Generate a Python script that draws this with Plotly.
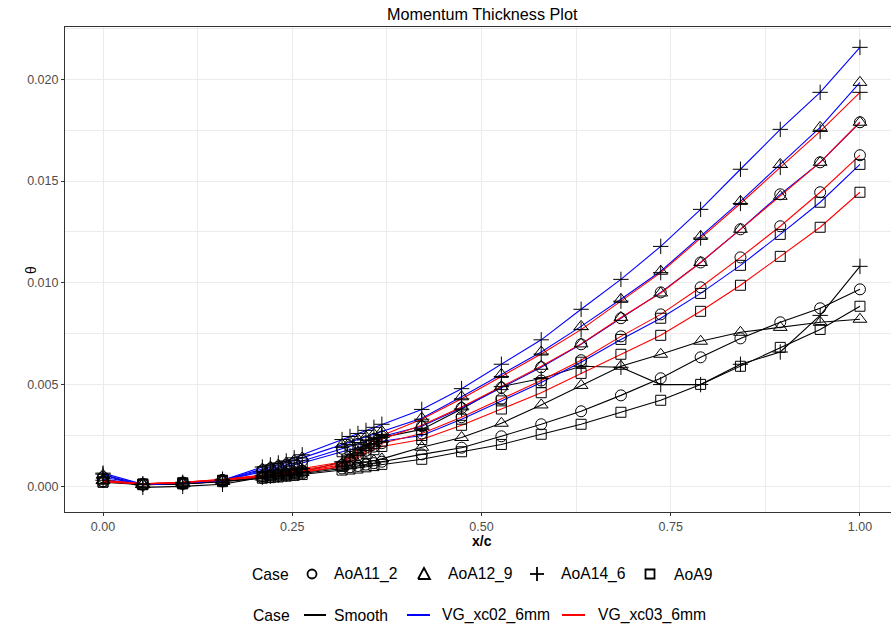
import plotly.graph_objects as go

# chordwise stations x/c
x_c = [0.0, 0.0526, 0.1053, 0.1579,
       0.2105, 0.2211, 0.2316, 0.2421, 0.2526, 0.2632,
       0.3158, 0.3263, 0.3368, 0.3474, 0.3579, 0.3684,
       0.4211, 0.4737, 0.5263, 0.5789, 0.6316, 0.6842,
       0.7368, 0.7895, 0.8421, 0.8947, 0.9474, 1.0]

# momentum thickness, Smooth
smooth_aoa9 = [0.00020, 0.00008, 0.00012, 0.00023, 0.00040, 0.00043, 0.00046, 0.00050, 0.00054, 0.00058,
               0.00080, 0.00085, 0.00090, 0.00096, 0.00102, 0.00108, 0.00133, 0.00170, 0.00206, 0.00256,
               0.00305, 0.00364, 0.00423, 0.00501, 0.00590, 0.00683, 0.00771, 0.00885]
smooth_aoa11_2 = [0.00025, 0.00008, 0.00012, 0.00024, 0.00042, 0.00046, 0.00050, 0.00054, 0.00058, 0.00063,
                  0.00088, 0.00094, 0.00100, 0.00107, 0.00114, 0.00121, 0.00157, 0.00190, 0.00246, 0.00305,
                  0.00369, 0.00447, 0.00531, 0.00634, 0.00727, 0.00806, 0.00875, 0.00968]
smooth_aoa12_9 = [0.00030, 0.00008, 0.00012, 0.00025, 0.00045, 0.00049, 0.00053, 0.00057, 0.00062, 0.00068,
                  0.00095, 0.00102, 0.00110, 0.00118, 0.00126, 0.00135, 0.00192, 0.00240, 0.00310, 0.00400,
                  0.00496, 0.00590, 0.00649, 0.00713, 0.00757, 0.00781, 0.00806, 0.00821]
smooth_aoa14_6 = [0.00060, -0.00005, 0.00000, 0.00010, 0.00045, 0.00050, 0.00055, 0.00060, 0.00066, 0.00072,
                  0.00120, 0.00140, 0.00160, 0.00190, 0.00210, 0.00240, 0.00280, 0.00380, 0.00490, 0.00530,
                  0.00590, 0.00585, 0.00500, 0.00500, 0.00600, 0.00660, 0.00840, 0.01081]

# momentum thickness, VG at x/c = 0.2
vg02_aoa9 = [0.00035, 0.00010, 0.00015, 0.00028, 0.00072, 0.00080, 0.00088, 0.00096, 0.00105, 0.00115,
             0.00170, 0.00180, 0.00190, 0.00200, 0.00211, 0.00222, 0.00250, 0.00330, 0.00420, 0.00510,
             0.00610, 0.00722, 0.00826, 0.00948, 0.01086, 0.01238, 0.01396, 0.01582]
vg02_aoa11_2 = [0.00045, 0.00010, 0.00015, 0.00030, 0.00078, 0.00087, 0.00096, 0.00105, 0.00115, 0.00125,
                0.00185, 0.00197, 0.00209, 0.00221, 0.00233, 0.00245, 0.00295, 0.00385, 0.00485, 0.00585,
                0.00698, 0.00826, 0.00953, 0.01100, 0.01263, 0.01435, 0.01592, 0.01789]
vg02_aoa12_9 = [0.00055, 0.00010, 0.00015, 0.00030, 0.00085, 0.00095, 0.00105, 0.00115, 0.00128, 0.00140,
                0.00205, 0.00218, 0.00230, 0.00243, 0.00256, 0.00270, 0.00335, 0.00440, 0.00550, 0.00660,
                0.00786, 0.00919, 0.01057, 0.01228, 0.01400, 0.01582, 0.01764, 0.01985]
vg02_aoa14_6 = [0.00065, 0.00010, 0.00015, 0.00030, 0.00095, 0.00105, 0.00115, 0.00125, 0.00140, 0.00155,
                0.00230, 0.00245, 0.00260, 0.00275, 0.00290, 0.00305, 0.00378, 0.00480, 0.00600, 0.00720,
                0.00870, 0.01017, 0.01179, 0.01361, 0.01558, 0.01754, 0.01936, 0.02157]

# momentum thickness, VG at x/c = 0.3
vg03_aoa9 = [0.00022, 0.00012, 0.00018, 0.00030, 0.00047, 0.00051, 0.00055, 0.00059, 0.00064, 0.00070,
             0.00098, 0.00120, 0.00142, 0.00162, 0.00180, 0.00196, 0.00230, 0.00300, 0.00380, 0.00460,
             0.00555, 0.00649, 0.00742, 0.00860, 0.00988, 0.01130, 0.01273, 0.01445]
vg03_aoa11_2 = [0.00025, 0.00012, 0.00019, 0.00032, 0.00050, 0.00054, 0.00058, 0.00063, 0.00069, 0.00076,
                0.00105, 0.00130, 0.00153, 0.00175, 0.00195, 0.00212, 0.00260, 0.00340, 0.00430, 0.00520,
                0.00620, 0.00737, 0.00845, 0.00978, 0.01125, 0.01278, 0.01445, 0.01627]
vg03_aoa12_9 = [0.00028, 0.00012, 0.00020, 0.00034, 0.00052, 0.00057, 0.00062, 0.00067, 0.00074, 0.00082,
                0.00112, 0.00140, 0.00167, 0.00190, 0.00212, 0.00232, 0.00300, 0.00390, 0.00490, 0.00590,
                0.00700, 0.00830, 0.00950, 0.01100, 0.01263, 0.01425, 0.01592, 0.01789]
vg03_aoa14_6 = [0.00030, 0.00012, 0.00020, 0.00035, 0.00055, 0.00060, 0.00065, 0.00070, 0.00078, 0.00088,
                0.00120, 0.00150, 0.00180, 0.00205, 0.00228, 0.00250, 0.00330, 0.00430, 0.00540, 0.00650,
                0.00770, 0.00910, 0.01050, 0.01220, 0.01390, 0.01567, 0.01744, 0.01936]

cases = ["Smooth", "VG_xc02_6mm", "VG_xc03_6mm"]
aoas = ["AoA11_2", "AoA12_9", "AoA14_6", "AoA9"]
case_colors = {"Smooth": "#000000", "VG_xc02_6mm": "#0000FF", "VG_xc03_6mm": "#FF0000"}
aoa_symbols = {"AoA11_2": "circle-open", "AoA12_9": "triangle-up-open",
               "AoA14_6": "cross-thin-open", "AoA9": "square-open"}
aoa_sizes = {"AoA11_2": 11, "AoA12_9": 12, "AoA14_6": 11, "AoA9": 10}

series = {
    ("Smooth", "AoA9"): smooth_aoa9, ("Smooth", "AoA11_2"): smooth_aoa11_2,
    ("Smooth", "AoA12_9"): smooth_aoa12_9, ("Smooth", "AoA14_6"): smooth_aoa14_6,
    ("VG_xc02_6mm", "AoA9"): vg02_aoa9, ("VG_xc02_6mm", "AoA11_2"): vg02_aoa11_2,
    ("VG_xc02_6mm", "AoA12_9"): vg02_aoa12_9, ("VG_xc02_6mm", "AoA14_6"): vg02_aoa14_6,
    ("VG_xc03_6mm", "AoA9"): vg03_aoa9, ("VG_xc03_6mm", "AoA11_2"): vg03_aoa11_2,
    ("VG_xc03_6mm", "AoA12_9"): vg03_aoa12_9, ("VG_xc03_6mm", "AoA14_6"): vg03_aoa14_6,
}

FONT = "Liberation Sans, Arial, sans-serif"
W, H = 891, 629
PL, PR, PT, PB = 65, 891, 27, 512  # plot-area pixel box

fig = go.Figure()

# lines first, coloured by case
for case in cases:
    for aoa in aoas:
        fig.add_trace(go.Scatter(
            x=x_c, y=series[(case, aoa)], mode="lines",
            line=dict(color=case_colors[case], width=1.1),
            showlegend=False, hoverinfo="skip"))

# open markers on top, shaped by angle of attack
for case in cases:
    for aoa in aoas:
        fig.add_trace(go.Scatter(
            x=x_c, y=series[(case, aoa)], mode="markers",
            marker=dict(symbol=aoa_symbols[aoa], size=aoa_sizes[aoa], color="black",
                        line=dict(color="black", width=1)),
            showlegend=False, name=f"{case} {aoa}"))


def px2paper(px, py):
    return (px - PL) / (PR - PL), (PB - py) / (PB - PT)


shapes = []
annotations = []
KEY_SIZE = 15.7


def add_text(px, py, text, size=KEY_SIZE):
    xx, yy = px2paper(px, py)
    annotations.append(dict(x=xx, y=yy, xref="paper", yref="paper", text=text,
                            showarrow=False, xanchor="left", yanchor="middle",
                            font=dict(family=FONT, size=size, color="black")))


def add_path(points, width=1.8, color="black"):
    pts = [px2paper(px, py) for px, py in points]
    d = "M " + " L ".join(f"{a:.5f},{b:.5f}" for a, b in pts)
    shapes.append(dict(type="path", path=d, xref="paper", yref="paper",
                       line=dict(color=color, width=width)))


# shape key
ROW1 = 574
add_text(250, ROW1, "Case")
cx, cy = px2paper(312, ROW1)
shapes.append(dict(type="circle", xref="paper", yref="paper", xsizemode="pixel", ysizemode="pixel",
                   xanchor=cx, yanchor=cy, x0=-4.5, x1=4.5, y0=-4.5, y1=4.5,
                   line=dict(color="black", width=1.8)))
add_text(332, ROW1, "AoA11_2")
add_path([(418, ROW1 + 5), (430, ROW1 + 5), (424, ROW1 - 6), (418, ROW1 + 5)])
add_text(446, ROW1, "AoA12_9")
add_path([(530, ROW1), (544, ROW1)])
add_path([(537, ROW1 - 7), (537, ROW1 + 7)])
add_text(559, ROW1, "AoA14_6")
sx, sy = px2paper(650, ROW1)
shapes.append(dict(type="rect", xref="paper", yref="paper", xsizemode="pixel", ysizemode="pixel",
                   xanchor=sx, yanchor=sy, x0=-4.5, x1=4.5, y0=-4.5, y1=4.5,
                   line=dict(color="black", width=1.8)))
add_text(672, ROW1, "AoA9")

# colour key
ROW2 = 615
add_text(251, ROW2, "Case")
add_path([(304, ROW2), (326, ROW2)], width=2, color=case_colors["Smooth"])
add_text(332, ROW2, "Smooth")
add_path([(407, ROW2), (430, ROW2)], width=2, color=case_colors["VG_xc02_6mm"])
add_text(440, ROW2, "VG_xc02_6mm")
add_path([(562, ROW2), (585, ROW2)], width=2, color=case_colors["VG_xc03_6mm"])
add_text(596, ROW2, "VG_xc03_6mm")

# axis titles
tx, ty = px2paper(482, 541)
annotations.append(dict(x=tx, y=ty, xref="paper", yref="paper", text="<b>x/c</b>",
                        showarrow=False, xanchor="center", yanchor="middle",
                        font=dict(family=FONT, size=14, color="black")))
tx, ty = px2paper(31, 270)
annotations.append(dict(x=tx, y=ty, xref="paper", yref="paper", text="θ", textangle=-90,
                        showarrow=False, xanchor="center", yanchor="middle",
                        font=dict(family=FONT, size=14, color="black")))
tx, ty = px2paper(482, 14)
annotations.append(dict(x=tx, y=ty, xref="paper", yref="paper", text="Momentum Thickness Plot",
                        showarrow=False, xanchor="center", yanchor="middle",
                        font=dict(family=FONT, size=16.2, color="black")))

x_ticks = [0.0, 0.25, 0.5, 0.75, 1.0]
x_tick_labels = ["0.00", "0.25", "0.50", "0.75", "1.00"]
y_ticks = [0.0, 0.005, 0.010, 0.015, 0.020]
y_tick_labels = ["0.000", "0.005", "0.010", "0.015", "0.020"]

GRID = "#EBEBEB"
fig.update_layout(
    width=W, height=H,
    margin=dict(l=PL, r=W - PR, t=PT, b=H - PB, pad=0),
    paper_bgcolor="white", plot_bgcolor="white",
    font=dict(family=FONT),
    showlegend=False,
    shapes=shapes, annotations=annotations,
    xaxis=dict(range=[-0.0502, 1.0410], tickvals=x_ticks, ticktext=x_tick_labels,
               showgrid=True, gridcolor=GRID, gridwidth=1.1, zeroline=False,
               minor=dict(dtick=0.125, tick0=0, showgrid=True, gridcolor=GRID, gridwidth=0.55, ticks=""),
               showline=True, linecolor="#333333", linewidth=1.1, mirror=True,
               ticks="outside", ticklen=3, tickcolor="#333333", tickwidth=1,
               tickfont=dict(family=FONT, size=12.5, color="#4D4D4D")),
    yaxis=dict(range=[-0.00126, 0.02257], tickvals=y_ticks, ticktext=y_tick_labels,
               showgrid=True, gridcolor=GRID, gridwidth=1.1, zeroline=False,
               minor=dict(dtick=0.0025, tick0=0, showgrid=True, gridcolor=GRID, gridwidth=0.55, ticks=""),
               showline=True, linecolor="#333333", linewidth=1.1, mirror=False,
               ticks="outside", ticklen=3, tickcolor="#333333", tickwidth=1,
               tickfont=dict(family=FONT, size=12.5, color="#4D4D4D")),
)

fig.write_html("out.html")
